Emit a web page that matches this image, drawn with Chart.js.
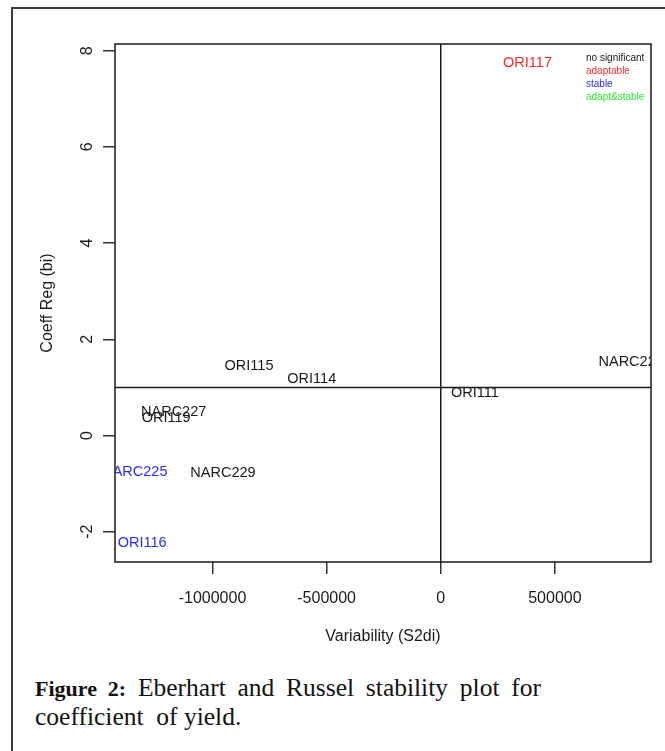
<!DOCTYPE html>
<html lang="en">
<head>
  <meta charset="UTF-8" />
  <title>Eberhart and Russel stability plot</title>
  <script src="https://cdn.jsdelivr.net/npm/chart.js"></script>
  <style>
    html, body {
      margin: 0;
      padding: 0;
      background: #fff;
      width: 665px;
      height: 751px;
      overflow: hidden;
    }
    .frame {
      position: absolute;
      left: 11px;
      top: 7px;
      width: 700px;
      height: 800px;
      border-left: 2px solid #3a3a3a;
      border-top: 2px solid #3a3a3a;
    }
    .plot {
      position: absolute;
      left: 0;
      top: 0;
      width: 665px;
      height: 660px;
    }
    .caption {
      position: absolute;
      left: 35px;
      top: 674px;
      font-family: 'Liberation Serif', serif;
      font-size: 25.5px;
      line-height: 28px;
      color: #111;
    }
    .caption .l1 {
      width: 506px;
      text-align: justify;
      text-align-last: justify;
    }
    .caption b { font-weight: bold; font-size: 22px; }
  </style>
</head>
<body>
  <div class="frame"></div>
  <div class="plot"><canvas id="chart" width="665" height="660"></canvas></div>
  <div class="caption">
    <div class="l1"><b>Figure 2:</b> Eberhart and Russel stability plot for</div>
    <div class="l2">coefficient&nbsp; of yield.</div>
  </div>

  <script>
    // genotypes: S2di (x) and bi (y)
    const genotypes = ['ORI117', 'NARC228', 'ORI115', 'ORI114', 'ORI111', 'NARC227', 'ORI119', 'NARC225', 'NARC229', 'ORI116'];
    const s2di = [380000, 834000, -840000, -565000, 150000, -1170000, -1203000, -1340000, -954000, -1308000];
    const bi = [7.74, 1.53, 1.45, 1.17, 0.88, 0.49, 0.36, -0.76, -0.78, -2.23];
    const groups = ['adaptable', 'no significant', 'no significant', 'no significant', 'no significant',
                    'no significant', 'no significant', 'stable', 'no significant', 'stable'];

    const legendNames = ['no significant', 'adaptable', 'stable', 'adapt&stable'];
    const legendColors = ['#1a1a1a', '#ff2a2a', '#2a2aff', '#2ee82e'];

    const xTicks = [-1000000, -500000, 0, 500000];
    const yTicks = [-2, 0, 2, 4, 6, 8];
    const refX = 0;   // vertical line
    const refY = 1;   // horizontal line

    // R style axis range: data range + 4% each side
    function range(v) {
      const lo = Math.min(...v), hi = Math.max(...v);
      const pad = (hi - lo) * 0.04;
      return [lo - pad, hi + pad];
    }
    const [xmin, xmax] = range(s2di);
    const [ymin, ymax] = range(bi);

    const points = s2di.map((x, i) => ({ x: x, y: bi[i] }));
    const colorOf = g => legendColors[legendNames.indexOf(g)];

    const ink = '#1a1a1a';
    const axisFont = { family: "'Liberation Sans', Arial, sans-serif", size: 16 };

    const decorations = {
      id: 'decorations',
      afterDatasetsDraw(chart) {
        const { ctx, chartArea: a, scales } = chart;
        ctx.save();
        ctx.strokeStyle = ink;
        ctx.lineWidth = 1.5;
        // box
        ctx.strokeRect(a.left, a.top, a.right - a.left, a.bottom - a.top);
        // reference lines
        const px = scales.x.getPixelForValue(refX);
        const py = scales.y.getPixelForValue(refY);
        ctx.beginPath();
        ctx.moveTo(px, a.top); ctx.lineTo(px, a.bottom);
        ctx.moveTo(a.left, py); ctx.lineTo(a.right, py);
        ctx.stroke();

        // point labels, clipped to plot region
        ctx.beginPath();
        ctx.rect(a.left, a.top, a.right - a.left, a.bottom - a.top);
        ctx.clip();
        ctx.font = "14.5px 'Liberation Sans', Arial, sans-serif";
        ctx.textAlign = 'center';
        ctx.textBaseline = 'middle';
        const meta = chart.getDatasetMeta(0);
        meta.data.forEach((el, i) => {
          ctx.fillStyle = colorOf(groups[i]);
          ctx.fillText(genotypes[i], el.x, el.y);
        });

        // legend, top right
        ctx.font = "10px 'Liberation Sans', Arial, sans-serif";
        ctx.textAlign = 'left';
        legendNames.forEach((n, i) => {
          ctx.fillStyle = legendColors[i];
          ctx.fillText(n, a.right - 65, a.top + 14 + i * 13);
        });
        ctx.restore();
      }
    };

    new Chart(document.getElementById('chart'), {
      type: 'scatter',
      data: {
        datasets: [{
          data: points,
          pointRadius: 0,
          pointHoverRadius: 0,
          showLine: false
        }]
      },
      options: {
        responsive: false,
        animation: false,
        events: [],
        layout: { padding: { left: 0, top: 44, right: 14, bottom: 0 } },
        plugins: { legend: { display: false }, tooltip: { enabled: false } },
        scales: {
          x: {
            type: 'linear',
            min: xmin,
            max: xmax,
            afterBuildTicks: s => { s.ticks = xTicks.map(v => ({ value: v })); },
            afterFit: s => { s.height = 98; },
            grid: { drawOnChartArea: false, drawTicks: true, tickLength: 12, color: '#333', lineWidth: 1.5 },
            border: { display: false },
            ticks: { color: ink, font: axisFont, padding: 15, autoSkip: false, maxRotation: 0,
                     callback: v => String(v) },
            title: { display: true, text: 'Variability (S2di)', color: ink, font: axisFont,
                     padding: { top: 0, bottom: 14 } }
          },
          y: {
            type: 'linear',
            min: ymin,
            max: ymax,
            afterBuildTicks: s => { s.ticks = yTicks.map(v => ({ value: v })); },
            afterFit: s => { s.width = 115; },
            grid: { drawOnChartArea: false, drawTicks: true, tickLength: 12, color: '#333', lineWidth: 1.5 },
            border: { display: false },
            ticks: { color: ink, font: axisFont, padding: 8, autoSkip: false,
                     minRotation: 90, maxRotation: 90, crossAlign: 'center',
                     callback: v => String(v) },
            title: { display: true, text: 'Coeff Reg (bi)', color: ink, font: axisFont,
                     padding: { top: 38, bottom: 0 } }
          }
        }
      },
      plugins: [decorations]
    });
  </script>
</body>
</html>
